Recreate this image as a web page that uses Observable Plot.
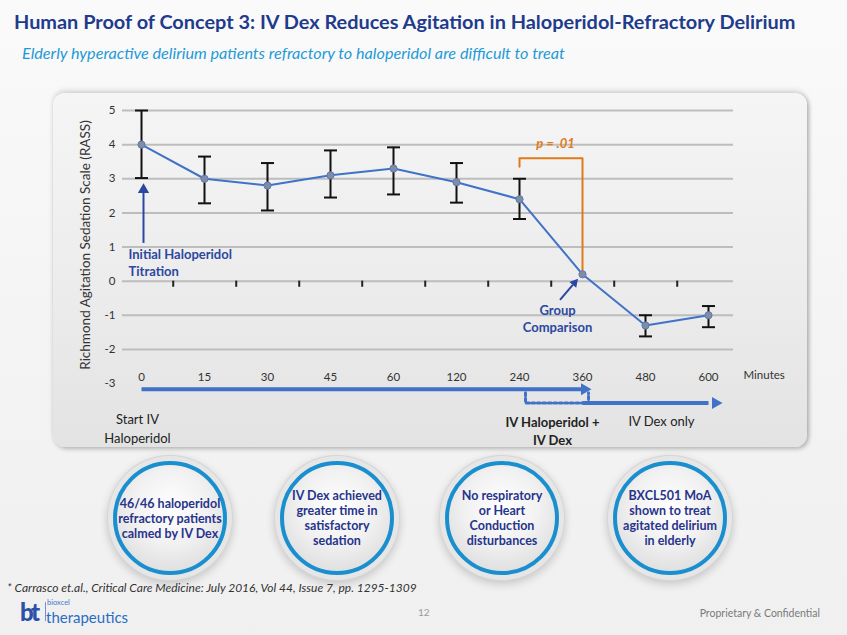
<!DOCTYPE html>
<html>
<head>
<meta charset="utf-8">
<script src="https://cdn.jsdelivr.net/npm/d3@7"></script>
<script src="https://cdn.jsdelivr.net/npm/@observablehq/plot@0.6"></script>
<style>
  html, body { margin:0; padding:0; }
  body { width:847px; height:635px; position:relative; overflow:hidden;
         background: linear-gradient(180deg, #fafafa 0%, #f3f3f3 60%, #f0f0f0 100%);
         font-family: Lato, "Open Sans", sans-serif; }
  #title { position:absolute; left:14px; top:9px; font-weight:bold; font-size:19.9px; color:#1f3b8c; white-space:nowrap; }
  #subtitle { position:absolute; left:22px; top:43px; font-style:italic; font-size:16.2px; color:#1e9bd7; white-space:nowrap; }
  #panel { position:absolute; left:53px; top:93px; width:754px; height:354px; border-radius:12px;
           background: linear-gradient(180deg, #f5f5f5 0%, #ececec 55%, #e3e3e3 100%);
           box-shadow: 0 -3px 5px rgba(0,0,0,0.12), 2px 2px 4px rgba(0,0,0,0.25); }
  #chart { position:absolute; left:0; top:0; }
  .circle { position:absolute; width:106px; height:106px; border-radius:50%;
            border:4px solid #1a8fcf;
            background: radial-gradient(circle at 50% 40%, #ffffff 0%, #f1f1f1 45%, #d4d4d4 100%);
            box-shadow: 0 0 0 5px #e6e6e6, 0 0 0 6px #d6d6d6, 0 3px 8px 6px rgba(0,0,0,0.18);
            display:flex; align-items:center; justify-content:center; text-align:center;
            color:#27348b; font-weight:bold; font-size:12.5px; line-height:15px; }
  #foot { position:absolute; left:7px; top:581px; font-style:italic; font-size:12px; line-height:14px; color:#333; white-space:nowrap; }
  .logo { position:absolute; white-space:nowrap; }
  #bt { left:20px; top:603px; font-size:24px; font-weight:900; color:#2b52a8; letter-spacing:-2.5px; line-height:18px; }
  #bx { left:47px; top:599px; font-size:7.5px; color:#4a78c8; line-height:8px; }
  #th { left:46px; top:611px; font-size:15px; color:#2a6cc4; line-height:13px; }
  #divider { left:45px; top:602px; width:1px; height:19px; background:#6b93d6; }
  #page { position:absolute; left:418px; top:606px; font-size:10px; color:#9a9a9a; }
  #conf { position:absolute; right:27px; top:607px; font-size:10.5px; color:#7a7a7a; }
</style>
</head>
<body>
<div id="title">Human Proof of Concept 3: IV Dex Reduces Agitation in Haloperidol-Refractory Delirium</div>
<div id="subtitle">Elderly hyperactive delirium patients refractory to haloperidol are difficult to treat</div>
<div id="panel"></div>
<div id="chart"></div>
<div class="circle" style="left:113px; top:461px;">46/46 haloperidol<br>refractory patients<br>calmed by IV Dex</div>
<div class="circle" style="left:280px; top:461px;">IV Dex achieved<br>greater time in<br>satisfactory<br>sedation</div>
<div class="circle" style="left:445px; top:461px;">No respiratory<br>or Heart<br>Conduction<br>disturbances</div>
<div class="circle" style="left:613px; top:461px;">BXCL501 MoA<br>shown to treat<br>agitated delirium<br>in elderly</div>
<div id="foot">* Carrasco et.al., Critical Care Medicine: July 2016, Vol 44, Issue 7, pp. 1295-1309</div>
<div class="logo" id="bt">bt</div>
<div class="logo" id="divider"></div>
<div class="logo" id="bx">bioxcel</div>
<div class="logo" id="th">therapeutics</div>
<div id="page">12</div>
<div id="conf">Proprietary &amp; Confidential</div>
<script>
// ---- data ----
const times = ["0", "15", "30", "45", "60", "120", "240", "360", "480", "600"];
const rass = [4.0, 3.0, 2.8, 3.1, 3.3, 2.9, 2.4, 0.2, -1.3, -1.0];
const errLow = [3.02, 2.28, 2.07, 2.45, 2.54, 2.30, 1.82, null, -1.62, -1.35];
const errHigh = [5.0, 3.65, 3.46, 3.83, 3.92, 3.46, 3.0, null, -1.0, -0.73];
const yTicks = [-3, -2, -1, 0, 1, 2, 3, 4, 5];
const gridTicks = [-2, -1, 0, 1, 2, 3, 4, 5];
const pValue = "p = .01";
const compareFrom = "240", compareTo = "360";

const data = times.map((t, i) => ({t, v: rass[i], lo: errLow[i], hi: errHigh[i]}));
const errs = data.filter(d => d.lo != null);

const navy = "#2b47a0";
const lineBlue = "#4072c8";
const orange = "#e07b1a";
const capSymbol = {draw(ctx, size) { const r = Math.sqrt(size / Math.PI); ctx.moveTo(-r, 0); ctx.lineTo(r, 0); }};
const step = (847 - 122 - 114 - 17 - 23) / (times.length - 1);
const cmp = data.find(d => d.t === compareTo);

const chart = Plot.plot({
  width: 847, height: 460,
  marginTop: 110, marginBottom: 77, marginLeft: 122, marginRight: 114,
  x: {type: "point", domain: times, padding: 0, insetLeft: 17, insetRight: 23},
  y: {domain: [-3, 5]},
  style: {background: "transparent", fontFamily: "Lato, 'Open Sans', sans-serif", fontSize: "11px", color: "#333", overflow: "visible"},
  marks: [
    Plot.gridY(gridTicks, {stroke: "#bdbdbd", strokeOpacity: 1, strokeWidth: 2}),
    Plot.ruleX(times.slice(0, -1), {x: d => d, y1: 0, y2: -0.18, dx: step / 2, stroke: "#222", strokeWidth: 2}),
    Plot.axisY(yTicks, {tickSize: 0, tickPadding: 7, fontSize: 11.5, label: null, tickFormat: d => String(d)}),
    Plot.axisX({tickSize: 0, tickPadding: 0, dy: -11, fontSize: 11.5, label: null}),
    Plot.text(["Richmond Agitation Sedation Scale (RASS)"], {frameAnchor: "left", textAnchor: "middle", rotate: -90, dx: -37, dy: -2, fontSize: 13.5, fill: "#333"}),
    Plot.text(["Minutes"], {frameAnchor: "bottom-right", dx: 10, dy: -5, textAnchor: "start", fontSize: 11.5, fill: "#333"}),
    // significance bracket
    Plot.line([{x: compareFrom, y: 3.35}, {x: compareFrom, y: 3.6}, {x: compareTo, y: 3.6}, {x: compareTo, y: cmp.v}],
      {x: "x", y: "y", stroke: orange, strokeWidth: 2}),
    Plot.text([pValue], {x: () => compareFrom, y: () => 4.03, dx: 36, fontSize: 13, fontWeight: "bold", fontStyle: "italic", fill: orange}),
    // error bars
    Plot.ruleX(errs, {x: "t", y1: "lo", y2: "hi", stroke: "#111", strokeWidth: 2}),
    Plot.dot(errs, {x: "t", y: "hi", symbol: capSymbol, r: 6.5, stroke: "#111", strokeWidth: 2, fill: "none"}),
    Plot.dot(errs, {x: "t", y: "lo", symbol: capSymbol, r: 6.5, stroke: "#111", strokeWidth: 2, fill: "none"}),
    // series
    Plot.line(data, {x: "t", y: "v", stroke: lineBlue, strokeWidth: 2}),
    Plot.dot(data, {x: "t", y: "v", r: 3.6, fill: "#7f8ca6", stroke: "#6079b0", strokeWidth: 1}),
    // initial titration annotation
    Plot.link([0], {x1: () => times[0], x2: () => times[0], y1: () => 1.12, y2: () => 2.6, dx: 2, stroke: navy, strokeWidth: 2}),
    Plot.dot([0], {x: () => times[0], y: () => 2.68, dx: 2, symbol: "triangle", r: 4.2, fill: navy, stroke: "none"}),
    Plot.text(["Initial Haloperidol\nTitration"], {x: () => times[0], y: () => 0.55, dx: -13, textAnchor: "start", lineAnchor: "middle", lineHeight: 1.32, fontSize: 13, fontWeight: "bold", fill: navy}),
    Plot.text(["Group\nComparison"], {x: () => compareTo, y: () => -1.08, dx: -25, lineAnchor: "middle", lineHeight: 1.3, fontSize: 13, fontWeight: "bold", fill: navy}),
    // timeline
    Plot.link([0], {x1: () => times[0], x2: () => compareTo, y1: () => -3.17, y2: () => -3.17, insetStart: -5, insetEnd: 3, stroke: lineBlue, strokeWidth: 4}),
    Plot.dot([0], {x: () => compareTo, y: () => -3.17, symbol: "triangle", rotate: 90, r: 4.5, dx: 2, fill: lineBlue}),
    Plot.line([{x: compareFrom, y: -3.27}, {x: compareFrom, y: -3.57}, {x: compareTo, y: -3.57}, {x: compareTo, y: -3.27}],
      {x: "x", y: "y", dx: 6, stroke: lineBlue, strokeWidth: 3, strokeDasharray: "3,2.5"}),
    Plot.link([0], {x1: () => compareTo, x2: () => times[times.length - 1], y1: () => -3.57, y2: () => -3.57, insetStart: -8, insetEnd: -2, stroke: lineBlue, strokeWidth: 4}),
    Plot.dot([0], {x: () => times[times.length - 1], y: () => -3.57, symbol: "triangle", rotate: 90, r: 4.5, dx: 7, fill: lineBlue}),
    Plot.text(["Start IV\nHaloperidol"], {x: () => times[0], y: () => -4.3, dx: -4, lineAnchor: "middle", lineHeight: 1.45, fontSize: 13, fill: "#222"}),
    Plot.text(["IV Haloperidol +\nIV Dex"], {x: () => compareTo, y: () => -4.37, dx: -30, lineAnchor: "middle", lineHeight: 1.4, fontSize: 13, fontWeight: "bold", fill: "#222"}),
    Plot.text(["IV Dex only"], {x: () => times[8], y: () => -4.12, dx: 16, lineAnchor: "middle", fontSize: 13, fill: "#222"})
  ]
});
document.getElementById("chart").appendChild(chart);

// group comparison arrow, positioned from the library's scales
const sx = chart.scale("x"), sy = chart.scale("y");
const px = sx.apply(compareTo), py = sy.apply(cmp.v);
const x0 = px - 22, y0 = py + 26, x1 = px - 4, y1 = py + 5;
const ang = Math.atan2(y1 - y0, x1 - x0);
const hl = 8, hw = 4.5;
const bx = x1 - hl * Math.cos(ang), by = y1 - hl * Math.sin(ang);
const g = d3.select(chart).append("g");
g.append("line").attr("x1", x0).attr("y1", y0).attr("x2", bx).attr("y2", by).attr("stroke", navy).attr("stroke-width", 2);
g.append("polygon").attr("fill", navy).attr("points", [
  [x1, y1],
  [bx + hw * Math.sin(ang), by - hw * Math.cos(ang)],
  [bx - hw * Math.sin(ang), by + hw * Math.cos(ang)]
].map(p => p.join(",")).join(" "));
</script>
</body>
</html>
